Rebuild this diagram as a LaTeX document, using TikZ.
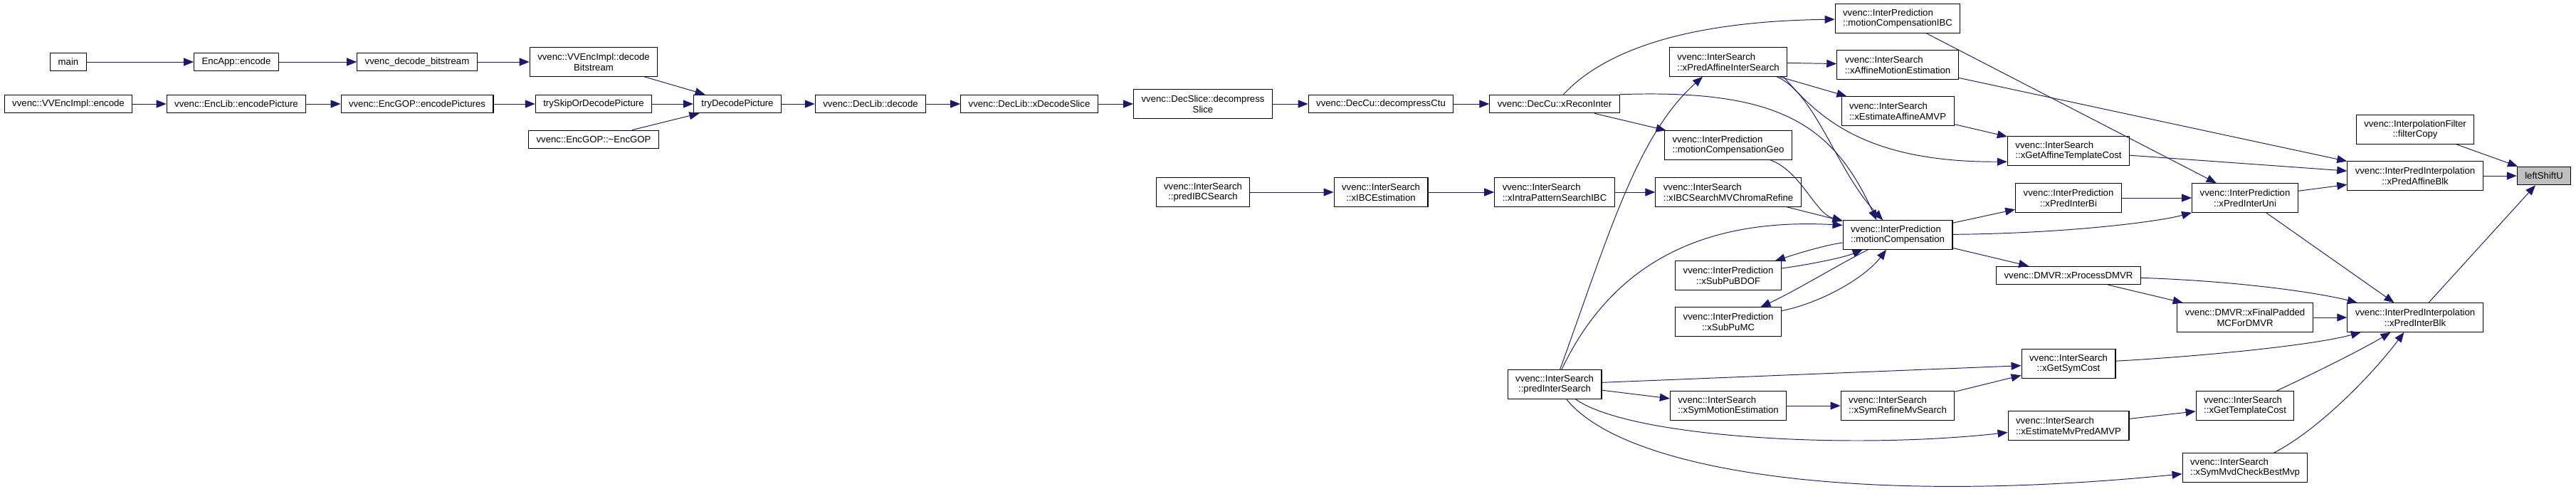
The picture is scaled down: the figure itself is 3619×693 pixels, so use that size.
\documentclass[tikz,border=0pt]{standalone}
\usepackage{fontspec}
\setmainfont{Liberation Sans}
\usepackage{tikz}
\usetikzlibrary{arrows.meta}
\definecolor{azulnoche}{RGB}{25,25,112}
\definecolor{grisr}{RGB}{191,191,191}
\tikzset{
  caja/.style={draw=black, line width=0.6pt, fill=white, align=center, inner xsep=2.2mm, inner ysep=0pt, minimum height=5.1mm, font=\fontsize{7.5}{8.4}\selectfont},
  caja2/.style={caja, minimum height=8.1mm},
  raiz/.style={caja, fill=grisr},
  fl/.style={-{Triangle[length=2.8mm,width=2.2mm]}, line width=0.55pt, azulnoche},
}
\begin{document}
\begin{tikzpicture}[x=0.2mm, y=-0.2mm]
  \useasboundingbox (0,0) rectangle (3619,693);
  \node[caja] (main) at (96,87) {main};
  \node[caja] (encapp) at (332,87) {EncApp::encode};
  \node[caja] (decbs) at (586,87) {vvenc\_decode\_bitstream};
  \node[caja2] (implbs) at (834,87) {vvenc::VVEncImpl::decode\\Bitstream};
  \node[caja] (implenc) at (96,146) {vvenc::VVEncImpl::encode};
  \node[caja] (encpic) at (332,146) {vvenc::EncLib::encodePicture};
  \node[caja] (encpics) at (586,146) {vvenc::EncGOP::encodePictures};
  \node[caja] (tryskip) at (834,146) {trySkipOrDecodePicture};
  \node[caja] (gopdel) at (834,196) {vvenc::EncGOP::\textasciitilde EncGOP};
  \node[caja] (trydec) at (1036,146) {tryDecodePicture};
  \node[caja] (libdec) at (1223,146) {vvenc::DecLib::decode};
  \node[caja] (xdecsl) at (1446,146) {vvenc::DecLib::xDecodeSlice};
  \node[caja2] (decsl) at (1690,146) {vvenc::DecSlice::decompress\\Slice};
  \node[caja] (decctu) at (1940,146) {vvenc::DecCu::decompressCtu};
  \node[caja] (recinter) at (2184,146) {vvenc::DecCu::xReconInter};
  \node[caja2] (predibc) at (1690,270) {vvenc::InterSearch\\::predIBCSearch};
  \node[caja2] (ibcest) at (1940,270) {vvenc::InterSearch\\::xIBCEstimation};
  \node[caja2, align=left] (patibc) at (2184,270) {vvenc::InterSearch\\::xIntraPatternSearchIBC};
  \node[caja2] (predinter) at (2184,540) {vvenc::InterSearch\\::predInterSearch};
  \node[caja2, align=left] (affsearch) at (2428,87) {vvenc::InterSearch\\::xPredAffineInterSearch};
  \node[caja2, align=left] (mcgeo) at (2428,204) {vvenc::InterPrediction\\::motionCompensationGeo};
  \node[caja2, align=left] (chroma) at (2428,270) {vvenc::InterSearch\\::xIBCSearchMVChromaRefine};
  \node[caja2] (bdof) at (2428,387) {vvenc::InterPrediction\\::xSubPuBDOF};
  \node[caja2] (submc) at (2428,452) {vvenc::InterPrediction\\::xSubPuMC};
  \node[caja2, align=left] (symme) at (2428,570) {vvenc::InterSearch\\::xSymMotionEstimation};
  \node[caja2, align=left] (mcibc) at (2666,26) {vvenc::InterPrediction\\::motionCompensationIBC};
  \node[caja2, align=left] (affme) at (2666,91) {vvenc::InterSearch\\::xAffineMotionEstimation};
  \node[caja2, align=left] (affamvp) at (2666,156) {vvenc::InterSearch\\::xEstimateAffineAMVP};
  \node[caja2, align=left] (mc) at (2666,330) {vvenc::InterPrediction\\::motionCompensation};
  \node[caja2, align=left] (symref) at (2666,570) {vvenc::InterSearch\\::xSymRefineMvSearch};
  \node[caja2, align=left] (afftpl) at (2906,212) {vvenc::InterSearch\\::xGetAffineTemplateCost};
  \node[caja2] (bi) at (2906,278) {vvenc::InterPrediction\\::xPredInterBi};
  \node[caja] (dmvr) at (2906,387) {vvenc::DMVR::xProcessDMVR};
  \node[caja2] (symcost) at (2906,511) {vvenc::InterSearch\\::xGetSymCost};
  \node[caja2, align=left] (mvamvp) at (2906,598) {vvenc::InterSearch\\::xEstimateMvPredAMVP};
  \node[caja2] (uni) at (3154,278) {vvenc::InterPrediction\\::xPredInterUni};
  \node[caja2] (padded) at (3154,446) {vvenc::DMVR::xFinalPadded\\MCForDMVR};
  \node[caja2, align=left] (tplcost) at (3154,570) {vvenc::InterSearch\\::xGetTemplateCost};
  \node[caja2, align=left] (bestmvp) at (3154,657) {vvenc::InterSearch\\::xSymMvdCheckBestMvp};
  \node[caja2] (filtcopy) at (3393,182) {vvenc::InterpolationFilter\\::filterCopy};
  \node[caja2] (affblk) at (3393,247) {vvenc::InterPredInterpolation\\::xPredAffineBlk};
  \node[caja2] (interblk) at (3393,446) {vvenc::InterPredInterpolation\\::xPredInterBlk};
  \node[raiz] (lsu) at (3574,247) {leftShiftU};

  \draw[fl] (main) -- (encapp);
  \draw[fl] (encapp) -- (decbs);
  \draw[fl] (decbs) -- (implbs);
  \draw[fl] (implbs) -- (trydec);
  \draw[fl] (implenc) -- (encpic);
  \draw[fl] (encpic) -- (encpics);
  \draw[fl] (encpics) -- (tryskip);
  \draw[fl] (tryskip) -- (trydec);
  \draw[fl] (gopdel) -- (trydec);
  \draw[fl] (trydec) -- (libdec);
  \draw[fl] (libdec) -- (xdecsl);
  \draw[fl] (xdecsl) -- (decsl);
  \draw[fl] (decsl) -- (decctu);
  \draw[fl] (decctu) -- (recinter);
  \draw[fl] (recinter) .. controls (2250,75) and (2360,30) .. (mcibc);
  \draw[fl] (recinter.north east) .. controls (2500,125) and (2575,175) .. (mc.145);
  \draw[fl] (recinter) -- (mcgeo);
  \draw[fl] (predibc) -- (ibcest);
  \draw[fl] (ibcest) -- (patibc);
  \draw[fl] (patibc) -- (chroma);
  \draw[fl] (chroma) -- (mc);
  \draw[fl] (mcgeo) .. controls (2530,240) and (2550,300) .. (mc);
  \draw[fl] (affsearch) -- (affme);
  \draw[fl] (affsearch) -- (affamvp);
  \draw[fl] (affsearch.-17) .. controls (2550,130) and (2580,240) .. (mc.135);
  \draw[fl] (affsearch.-15) .. controls (2555,165) and (2620,228) .. (afftpl.190);
  \draw[fl] (predinter) .. controls (2260,330) and (2300,190) .. (affsearch.-150);
  \draw[fl] (predinter) .. controls (2260,380) and (2380,305) .. (mc.170);
  \draw[fl] (mc) .. controls (2560,345) and (2520,358) .. (bdof);
  \draw[fl] (bdof) .. controls (2540,372) and (2590,362) .. (mc);
  \draw[fl] (mc) .. controls (2586,370) and (2520,410) .. (submc);
  \draw[fl] (submc) .. controls (2560,425) and (2620,390) .. (mc);
  \draw[fl] (affme) -- (affblk);
  \draw[fl] (mcibc) -- (uni);
  \draw[fl] (affamvp) -- (afftpl);
  \draw[fl] (afftpl) -- (affblk);
  \draw[fl] (mc) -- (bi);
  \draw[fl] (bi) -- (uni);
  \draw[fl] (mc) .. controls (2900,328) and (3030,312) .. (uni.south west);
  \draw[fl] (mc) -- (dmvr);
  \draw[fl] (uni) -- (affblk);
  \draw[fl] (uni) -- (interblk);
  \draw[fl] (filtcopy) -- (lsu);
  \draw[fl] (affblk) -- (lsu);
  \draw[fl] (interblk) -- (lsu);
  \draw[fl] (dmvr) .. controls (3150,395) and (3260,412) .. (interblk);
  \draw[fl] (dmvr) -- (padded);
  \draw[fl] (padded) -- (interblk);
  \draw[fl] (symcost) .. controls (3100,500) and (3250,485) .. (interblk);
  \draw[fl] (tplcost) .. controls (3260,520) and (3320,490) .. (interblk);
  \draw[fl] (bestmvp) .. controls (3255,605) and (3330,530) .. (interblk);
  \draw[fl] (predinter) -- (symcost);
  \draw[fl] (predinter) -- (symme);
  \draw[fl] (predinter) .. controls (2290,615) and (2600,632) .. (mvamvp);
  \draw[fl] (predinter) .. controls (2280,660) and (2600,712) .. (bestmvp);
  \draw[fl] (symme) -- (symref);
  \draw[fl] (symref) -- (symcost);
  \draw[fl] (mvamvp) -- (tplcost);
\end{tikzpicture}
\end{document}
